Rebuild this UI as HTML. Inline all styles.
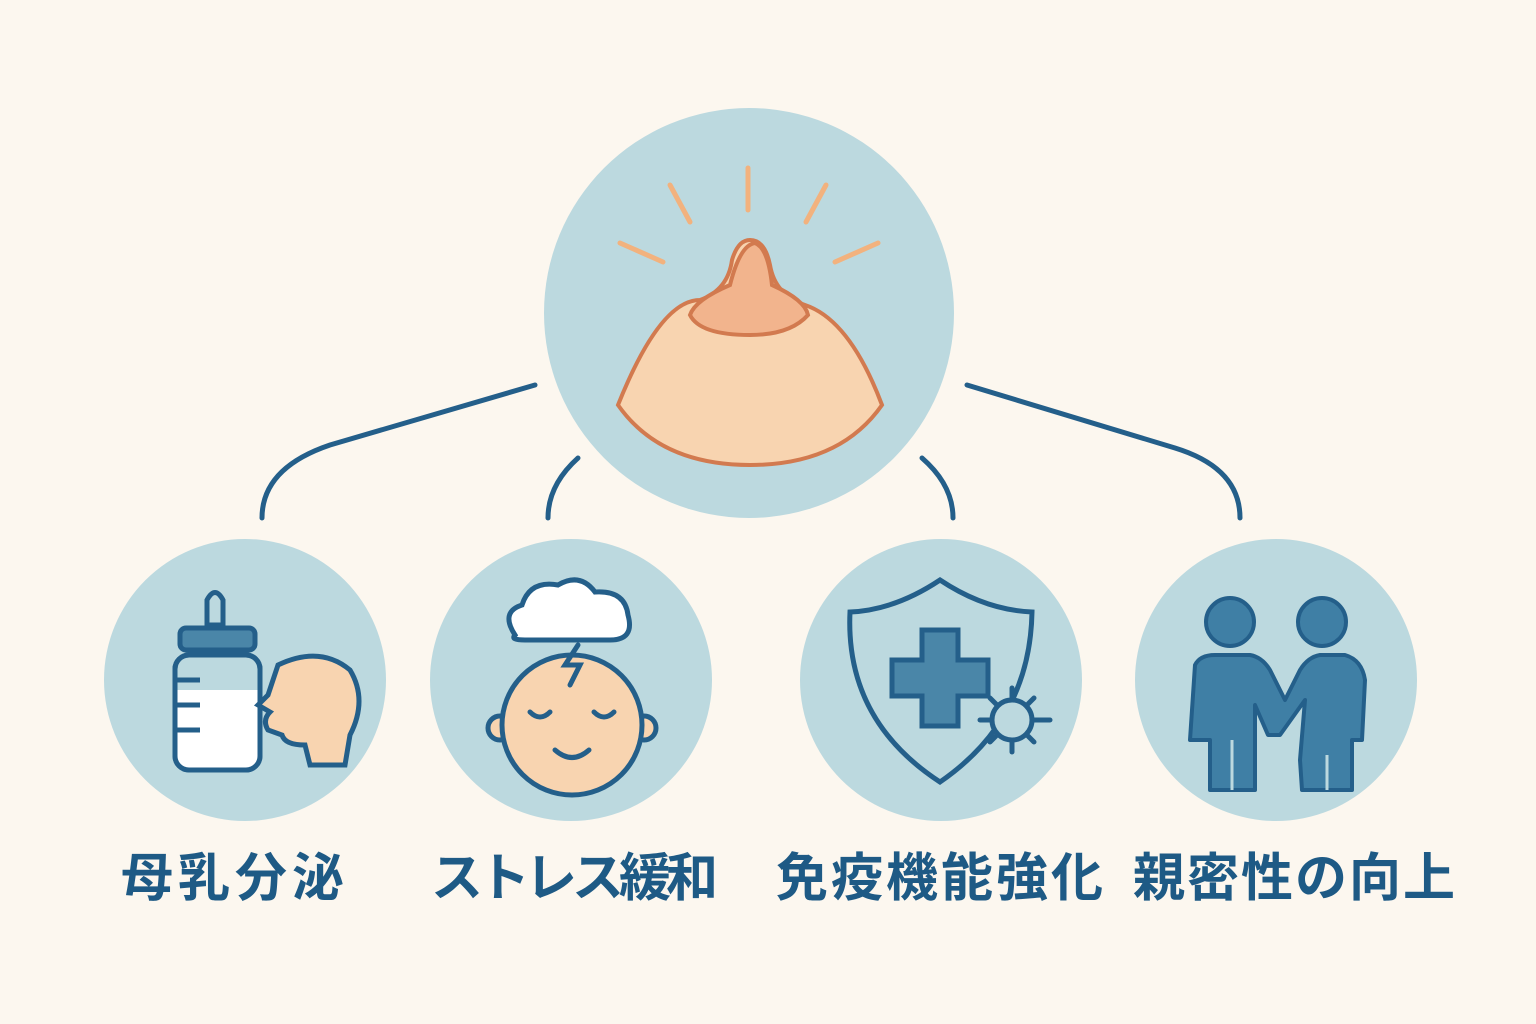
<!DOCTYPE html>
<html><head><meta charset="utf-8"><style>
html,body{margin:0;padding:0;background:#fcf7ef;}
.lab{position:absolute;top:841px;font-family:"Liberation Sans","Noto Sans CJK JP",sans-serif;font-size:52px;font-weight:bold;color:#1e5a85;white-space:nowrap;line-height:76px;}
</style></head><body>
<div style="position:relative;width:1536px;height:1024px;overflow:hidden;">
<svg width="1536" height="1024" style="position:absolute;left:0;top:0">
<g fill="#bcd9df">
<circle cx="749" cy="313" r="205"/>
<circle cx="245" cy="680" r="141"/>
<circle cx="571" cy="680" r="141"/>
<circle cx="941" cy="680" r="141"/>
<circle cx="1276" cy="680" r="141"/>
</g>
<g fill="none" stroke="#245f8a" stroke-width="5" stroke-linecap="round">
<path d="M535 385 L330 445 Q262 468 262 518"/>
<path d="M578 458 Q548 485 548 518"/>
<path d="M922 458 Q953 485 953 518"/>
<path d="M967 385 L1175 448 Q1240 468 1240 518"/>
</g>
<path d="M618 405 Q660 300 700 300 Q728 290 732 260 Q738 240 750 240 Q765 240 770 265 Q775 295 805 305 Q850 320 882 405 Q840 465 750 465 Q660 465 618 405Z" fill="#f8d4b0" stroke="#d27a4f" stroke-width="4"/>
<path d="M690 315 Q695 300 730 285 Q740 245 755 243 Q768 248 772 285 Q805 300 808 315 Q790 335 750 335 Q700 335 690 315Z" fill="#f2b48d" stroke="#d27a4f" stroke-width="4"/>
<g stroke="#f2b27e" stroke-width="5" stroke-linecap="round">
<line x1="748" y1="168" x2="748" y2="210"/>
<line x1="670" y1="185" x2="690" y2="222"/>
<line x1="826" y1="185" x2="806" y2="222"/>
<line x1="620" y1="243" x2="663" y2="262"/>
<line x1="878" y1="243" x2="835" y2="262"/>
</g>
<g stroke="#245f8a" stroke-width="5" fill="none">
<path d="M207 625 L207 600 Q215 585 223 600 L223 625Z" fill="#bcd9df"/>
<rect x="180" y="628" width="75" height="22" rx="6" fill="#4a86a8"/>
<rect x="175" y="655" width="85" height="115" rx="14" fill="#bcd9df"/>
<path d="M177 690 L258 690 L258 760 Q258 768 250 768 L185 768 Q177 768 177 760Z" fill="#fff" stroke="none"/>
<rect x="175" y="655" width="85" height="115" rx="14"/>
<line x1="175" y1="680" x2="200" y2="680"/><line x1="175" y1="705" x2="200" y2="705"/><line x1="175" y1="730" x2="200" y2="730"/>
<path d="M278 665 Q320 645 350 670 Q368 700 350 735 L345 765 L310 765 L305 745 Q285 745 282 735 L268 730 Q262 720 270 712 L258 705 L268 695 Z" fill="#f8d4b0"/>
</g>
<g stroke="#245f8a" stroke-width="5" fill="none" stroke-linecap="round">
<circle cx="500" cy="728" r="12" fill="#f8d4b0"/><circle cx="644" cy="728" r="12" fill="#f8d4b0"/>
<circle cx="572" cy="725" r="70" fill="#f8d4b0"/>
<path d="M530 712 Q540 722 550 712"/><path d="M594 712 Q604 722 614 712"/>
<path d="M555 750 Q572 765 589 750"/>
<path d="M515 635 Q500 612 522 605 Q530 580 558 585 Q580 572 595 592 Q625 590 628 615 Q635 640 610 640 L525 640 Q510 640 515 635Z" fill="#fff"/>
<path d="M578 645 L565 665 L580 665 L570 685"/>
</g>
<g stroke="#245f8a" stroke-width="5" fill="none" stroke-linecap="round">
<path d="M940 580 Q895 610 850 612 Q845 720 940 782 Q1030 720 1032 612 Q985 610 940 580Z"/>
<path d="M922 630 h36 v30 h30 v36 h-30 v30 h-36 v-30 h-30 v-36 h30z" fill="#4a86a8"/>
<circle cx="1012" cy="720" r="20" fill="#bcd9df"/>
<line x1="1012" y1="688" x2="1012" y2="698"/><line x1="1012" y1="742" x2="1012" y2="752"/>
<line x1="980" y1="720" x2="990" y2="720"/><line x1="1034" y1="720" x2="1050" y2="720"/>
<line x1="990" y1="698" x2="996" y2="704"/><line x1="1034" y1="698" x2="1028" y2="704"/>
<line x1="990" y1="742" x2="996" y2="736"/><line x1="1034" y1="742" x2="1028" y2="736"/>
</g>
<g fill="#3f7fa5" stroke="#245f8a" stroke-width="4" stroke-linejoin="round">
<circle cx="1230" cy="622" r="24"/><circle cx="1322" cy="622" r="24"/>
<path d="M1195 665 Q1200 655 1215 655 L1250 655 Q1262 657 1270 670 L1285 700 L1300 670 Q1308 657 1320 655 L1345 655 Q1362 660 1365 680 L1362 740 L1352 740 L1352 790 L1302 790 L1300 760 L1305 700 L1280 735 L1268 735 L1255 705 L1255 790 L1210 790 L1210 740 L1190 740 Z"/>
</g>
<g stroke="#bcd9df" stroke-width="3"><line x1="1232" y1="740" x2="1232" y2="790"/><line x1="1327" y1="755" x2="1327" y2="790"/></g>
</svg>
<div class="lab" style="left:121px;letter-spacing:5px">母乳分泌</div>
<div class="lab" style="left:431px;letter-spacing:-5px">ストレス緩和</div>
<div class="lab" style="left:776px;letter-spacing:3px">免疫機能強化</div>
<div class="lab" style="left:1133px;letter-spacing:2px">親密性の向上</div>
</div>
</body></html>
